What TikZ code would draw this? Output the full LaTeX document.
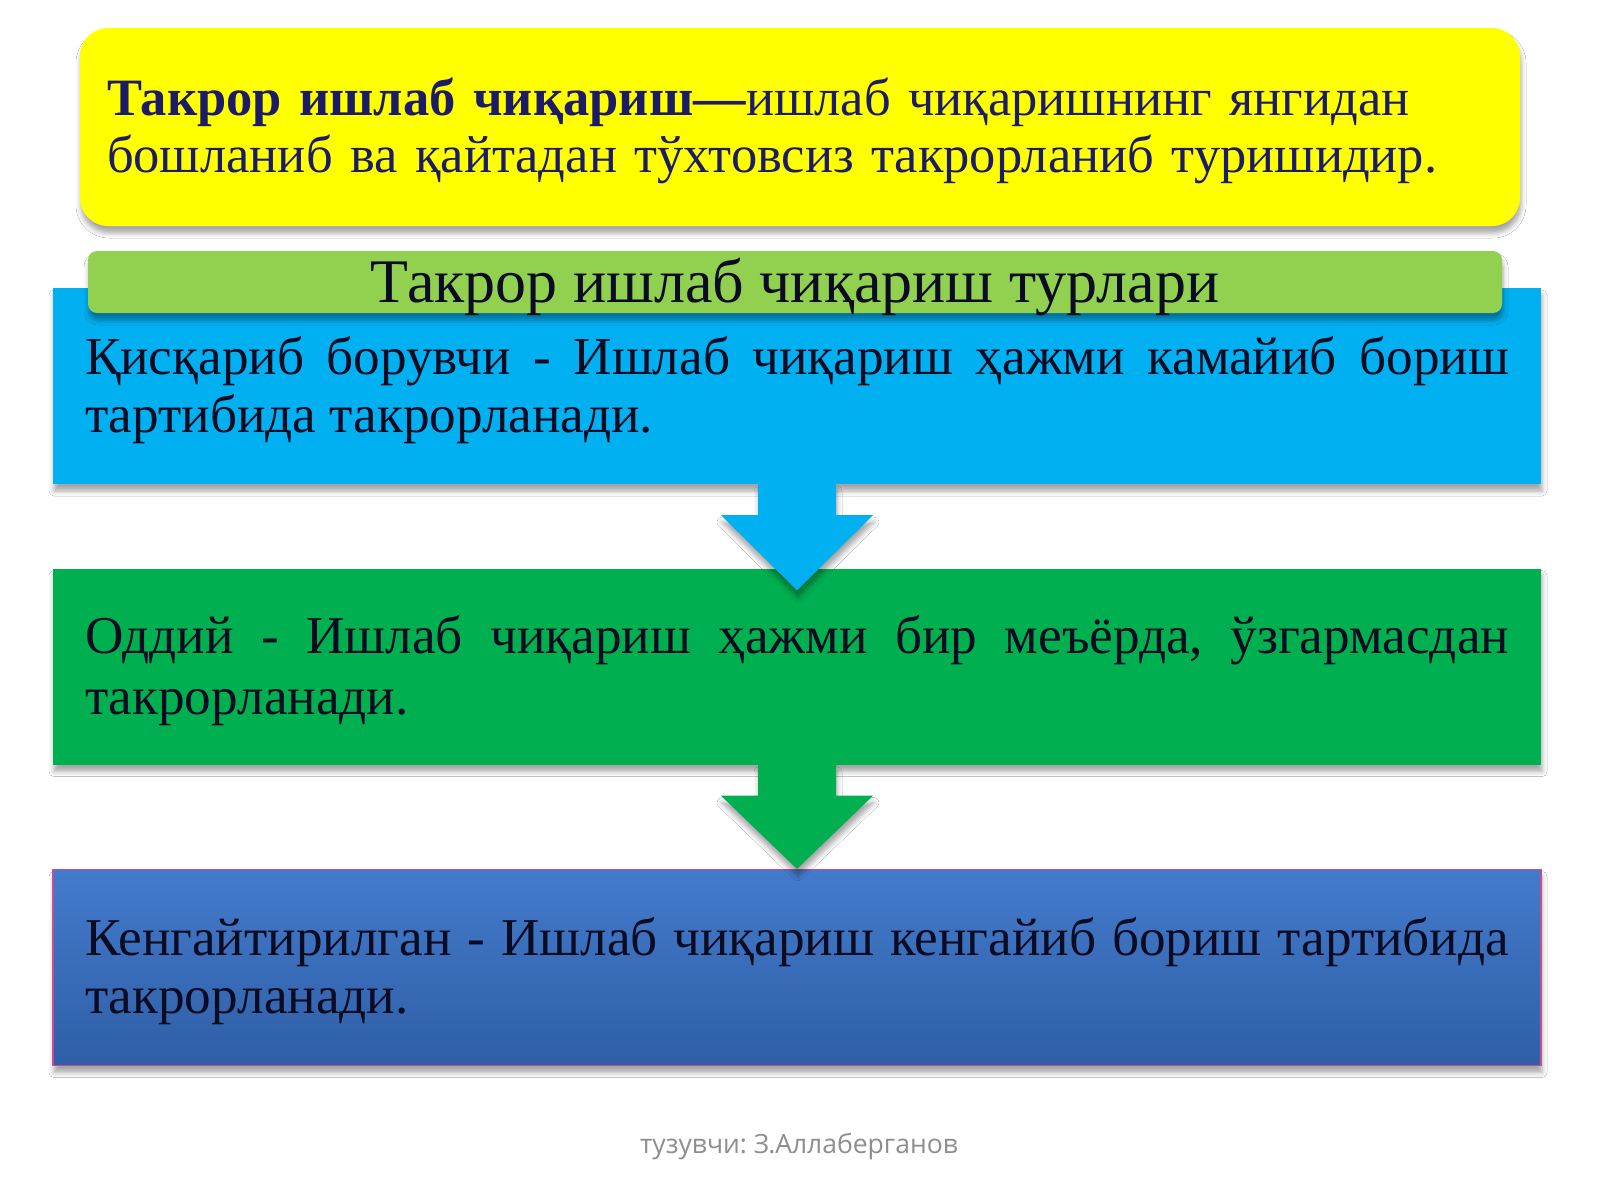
\documentclass[tikz,border=0pt]{standalone}
\usepackage{fontspec}
\setmainfont{Liberation Serif}
\newfontfamily\authorfont{Open Sans}
\usetikzlibrary{positioning,calc,shadows.blur}
\frenchspacing

\definecolor{defyellow}{HTML}{FFFF00}
\definecolor{defnavy}{HTML}{1C1C66}
\definecolor{titlegreen}{HTML}{92D050}
\definecolor{cyanbox}{HTML}{00B0F0}
\definecolor{greenbox}{HTML}{00B050}
\definecolor{bluetop}{HTML}{437BCC}
\definecolor{bluebottom}{HTML}{2F5EA6}
\definecolor{blueedge}{HTML}{C0508F}
\definecolor{boxtext}{HTML}{0B0B22}
\definecolor{authorgray}{HTML}{8E8E8E}

\newcommand{\firstline}{\rule{0pt}{46pt}\hyphenpenalty=10000 }

\tikzset{
  softshadow/.style={blur shadow={shadow xshift=1pt, shadow yshift=-7pt, shadow blur radius=5pt, shadow opacity=35}},
  typebox/.style={rectangle, minimum width=1488pt, minimum height=196pt, text width=1424pt,
    inner xsep=32pt, inner ysep=0pt, align=justify, text=boxtext, softshadow,
    font=\fontsize{53.2}{58}\selectfont},
  blockarrow/.style={softshadow}
}

\begin{document}
\begin{tikzpicture}[x=1pt,y=-1pt]
\useasboundingbox[fill=white] (0,0) rectangle (1600,1200);

\node[rectangle, rounded corners=28pt, fill=defyellow, softshadow, minimum width=1440pt, minimum height=198pt,
  text width=1386pt, inner xsep=27pt, align=left, text=defnavy, font=\fontsize{52.5}{57}\selectfont]
  (definition) at (800,127) {\firstline{\bfseries Такрор ишлаб чиқариш—}ишлаб чиқаришнинг янгидан\\
  бошланиб ва қайтадан тўхтовсиз такрорланиб туришидир.};

\node[typebox, fill=cyanbox] (kisq) at (797,386)
  {\firstline Қисқариб борувчи - Ишлаб чиқариш ҳажми камайиб бориш\linebreak
  тартибида такрорланади.};
\node[typebox, fill=greenbox, font=\fontsize{53.2}{61}\selectfont] (oddiy) at (797,666.5)
  {\firstline Оддий - Ишлаб чиқариш ҳажми бир меъёрда, ўзгармасдан\linebreak
  такрорланади.};
\node[typebox, top color=bluetop, bottom color=bluebottom, draw=blueedge, line width=1.2pt] (keng) at (797,967.5)
  {\firstline Кенгайтирилган - Ишлаб чиқариш кенгайиб бориш тартибида\linebreak
  такрорланади.};

\node[rectangle, rounded corners=9pt, fill=titlegreen, softshadow, minimum width=1414pt, minimum height=62pt,
  inner sep=0pt, text height=46pt, text depth=6pt, text=boxtext, font=\fontsize{62}{66}\selectfont] (types) at (795,282)
  {Такрор ишлаб чиқариш турлари};

\fill[cyanbox, blockarrow] ($(kisq.south)+(-39,0)$) -- ++(0,31) -- ++(-37,0)
  -- ($(oddiy.north)+(0,22)$) -- ($(kisq.south)+(76,31)$) -- ++(-37,0) -- ($(kisq.south)+(39,0)$) -- cycle;
\fill[greenbox, blockarrow] ($(oddiy.south)+(-39,0)$) -- ++(0,31) -- ++(-37,0)
  -- (keng.north) -- ($(oddiy.south)+(76,31)$) -- ++(-37,0) -- ($(oddiy.south)+(39,0)$) -- cycle;

\node[text=authorgray, font=\authorfont\fontsize{26.5}{30}\selectfont] (author) at (799,1147) {тузувчи: З.Аллаберганов};
\end{tikzpicture}
\end{document}
